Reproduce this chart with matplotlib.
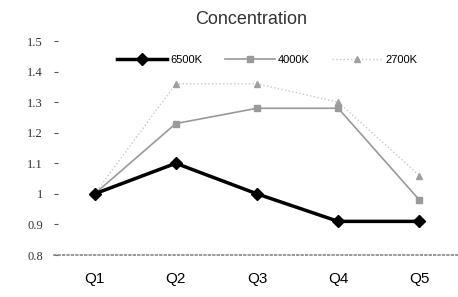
import matplotlib
matplotlib.use('Agg')
from matplotlib import pyplot as plt

# 数据
quarters = ['Q1', 'Q2', 'Q3', 'Q4', 'Q5']
k6500 = [1.0, 1.10, 1.00, 0.91, 0.91]
k4000 = [1.0, 1.23, 1.28, 1.28, 0.98]
k2700 = [1.0, 1.36, 1.36, 1.30, 1.06]
y_ticks = [0.8, 0.9, 1.0, 1.1, 1.2, 1.3, 1.4, 1.5]
y_labels = ['0.8', '0.9', '1', '1.1', '1.2', '1.3', '1.4', '1.5']

plt.rcParams['font.family'] = ['Liberation Sans', 'DejaVu Sans']

fig = plt.figure(figsize=(4.58, 2.97), dpi=100)
ax = fig.add_axes([54 / 458, 0.1414, 406 / 458, 0.7205])

x = range(len(quarters))
ax.plot(x, k2700, color='#c8c8c8', lw=1, ls=':', marker='^', ms=5,
        mfc='#a0a0a0', mec='#a0a0a0', label='2700K', zorder=2)
ax.plot(x, k4000, color='#999999', lw=1.2, marker='s', ms=5,
        mfc='#9a9a9a', mec='#9a9a9a', label='4000K', zorder=3)
ax.plot(x, k6500, color='black', lw=2.5, marker='D', ms=6,
        mfc='black', mec='black', label='6500K', zorder=4)

ax.set_xlim(-0.5, 4.5)
ax.set_ylim(0.8, 1.5)
ax.set_xticks(list(x))
ax.set_xticklabels(quarters, fontsize=11)
ax.set_yticks(y_ticks)
ax.set_yticklabels(y_labels, fontsize=9, color='#333333', family='Liberation Serif')
ax.tick_params(axis='x', length=0, pad=12)
ax.tick_params(axis='y', length=3, width=0.8, color='#555555', pad=8, direction='in')

for s in ['top', 'right', 'left']:
    ax.spines[s].set_visible(False)
ax.spines['bottom'].set_color('#888888')
ax.spines['bottom'].set_linestyle(':')
ax.spines['bottom'].set_linewidth(1.2)

fig.text(0.548, 0.935, 'Concentration', ha='center', va='center', fontsize=13, color='#333333')

handles, labels = ax.get_legend_handles_labels()
order = [2, 1, 0]
ax.legend([handles[i] for i in order], [labels[i] for i in order],
          loc='center', bbox_to_anchor=(0.525, 0.911), ncol=3, frameon=False,
          fontsize=8, handlelength=4.5, columnspacing=2.0, handletextpad=0.3,
          borderpad=0, borderaxespad=0)

fig.savefig('out.png', dpi=100)
